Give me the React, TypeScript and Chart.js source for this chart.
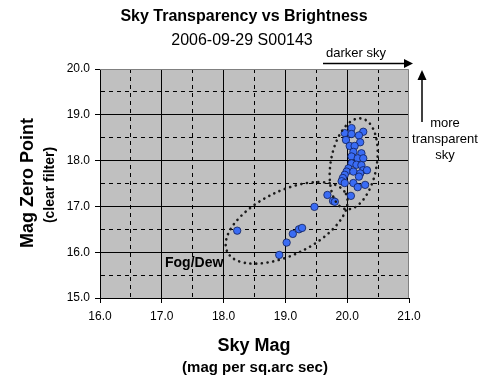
import React, { useEffect, useRef } from "react";
import { Chart, registerables } from "chart.js";

Chart.register(...registerables);

// ---- data ----
const skyMag = [
  18.22, 18.9, 19.02, 19.12, 19.22, 19.27, 19.47, 19.68, 19.77, 19.8,
  20.06, 20.07, 19.96, 20.07, 20.26, 20.19, 19.98, 20.21, 20.04, 20.12,
  20.1, 20.23, 20.07, 20.17, 20.26, 20.07, 20.15, 20.23, 20.02, 20.26,
  19.99, 20.1, 20.21, 20.32, 19.96, 20.19, 19.93, 19.91, 20.1, 20.29,
  19.96, 20.17,
];
const zeroPoint = [
  16.47, 15.94, 16.21, 16.4, 16.5, 16.53, 16.99, 17.25, 17.12, 17.1,
  17.23, 18.71, 18.6, 18.58, 18.63, 18.55, 18.45, 18.4, 18.32, 18.32,
  18.19, 18.16, 18.09, 18.05, 18.05, 17.94, 17.91, 17.9, 17.83, 17.79,
  17.76, 17.76, 17.72, 17.79, 17.69, 17.65, 17.62, 17.55, 17.51, 17.47,
  17.51, 17.42,
];
const xMin = 16, xMax = 21, yMin = 15, yMax = 20;
const titleText = "Sky Transparency vs Brightness";
const subtitleText = "2006-09-29 S00143";
const xTitle = "Sky Mag";
const xSubTitle = "(mag per sq.arc sec)";
const yTitle = "Mag Zero Point";
const ySubTitle = "(clear filter)";
const fogLabel = "Fog/Dew";
const darkerLabel = "darker sky";
const transparentLines = ["more", "transparent", "sky"];
// ellipses: centre in data units, radii (px) and tilt (deg)
const ellipseCx = [19.02, 20.105];
const ellipseCy = [16.64, 17.93];
const ellipseA = [66, 23];
const ellipseB = [32, 46];
const ellipseRot = [-26, 10];

const FONT = "'Liberation Sans', Arial, sans-serif";

const decorPlugin = {
  id: "decor",
  beforeDraw(chart: any) {
    const { ctx, chartArea: a } = chart;
    ctx.save();
    ctx.fillStyle = "#c0c0c0";
    ctx.fillRect(a.left, a.top, a.right - a.left, a.bottom - a.top);
    ctx.restore();
  },
  afterDatasetsDraw(chart: any) {
    const { ctx } = chart;
    const xs = chart.scales.x, ys = chart.scales.y;
    ctx.save();
    ctx.strokeStyle = "#1a1a1a";
    ctx.lineWidth = 2.6;
    ctx.lineCap = "round";
    ctx.setLineDash([0.1, 5.6]);
    for (let i = 0; i < ellipseCx.length; i++) {
      const cx = xs.getPixelForValue(ellipseCx[i]);
      const cy = ys.getPixelForValue(ellipseCy[i]);
      ctx.beginPath();
      ctx.ellipse(cx, cy, ellipseA[i], ellipseB[i], (ellipseRot[i] * Math.PI) / 180, 0, Math.PI * 2);
      ctx.stroke();
    }
    ctx.restore();
  },
  afterDraw(chart: any) {
    const { ctx, chartArea: a } = chart;
    ctx.save();
    ctx.fillStyle = "#000";
    ctx.textAlign = "center";
    ctx.textBaseline = "middle";
    ctx.font = `bold 16px ${FONT}`;
    ctx.fillText(titleText, 244, 17);
    ctx.font = `16px ${FONT}`;
    ctx.fillText(subtitleText, 242, 41);
    // x titles
    ctx.font = `bold 18px ${FONT}`;
    ctx.fillText(xTitle, 254, 346);
    ctx.font = `bold 15px ${FONT}`;
    ctx.fillText(xSubTitle, 255, 368);
    // y titles
    ctx.save();
    ctx.translate(28, 183);
    ctx.rotate(-Math.PI / 2);
    ctx.font = `bold 18px ${FONT}`;
    ctx.fillText(yTitle, 0, 0);
    ctx.restore();
    ctx.save();
    ctx.translate(50, 185);
    ctx.rotate(-Math.PI / 2);
    ctx.font = `bold 14px ${FONT}`;
    ctx.fillText(ySubTitle, 0, 0);
    ctx.restore();
    // Fog/Dew
    ctx.textAlign = "left";
    ctx.font = `bold 14px ${FONT}`;
    ctx.fillText(fogLabel, 165, 263);
    // darker sky arrow
    ctx.font = `13px ${FONT}`;
    ctx.fillText(darkerLabel, 326, 53);
    ctx.strokeStyle = "#000";
    ctx.lineWidth = 1.5;
    ctx.beginPath();
    ctx.moveTo(323, 63.5);
    ctx.lineTo(406, 63.5);
    ctx.stroke();
    ctx.beginPath();
    ctx.moveTo(413, 63.5);
    ctx.lineTo(404, 59);
    ctx.lineTo(404, 68);
    ctx.closePath();
    ctx.fill();
    // transparent arrow
    ctx.beginPath();
    ctx.moveTo(422, 122);
    ctx.lineTo(422, 78);
    ctx.stroke();
    ctx.beginPath();
    ctx.moveTo(422, 70);
    ctx.lineTo(417.5, 80);
    ctx.lineTo(426.5, 80);
    ctx.closePath();
    ctx.fill();
    ctx.textAlign = "center";
    ctx.font = `13px ${FONT}`;
    const ly = [123, 139, 155];
    transparentLines.forEach((t, i) => ctx.fillText(t, 445, ly[i]));
    // top/right border
    ctx.strokeStyle = "#808080";
    ctx.lineWidth = 1;
    ctx.beginPath();
    ctx.moveTo(a.left, a.top + 0.5);
    ctx.lineTo(a.right - 0.5, a.top + 0.5);
    ctx.lineTo(a.right - 0.5, a.bottom);
    ctx.stroke();
    ctx.restore();
  },
};

const isMajor = (v: number) => Math.abs(v - Math.round(v)) < 1e-6;

export default function App() {
  const ref = useRef<HTMLCanvasElement>(null);
  useEffect(() => {
    if (!ref.current) return;
    const points = skyMag.map((x, i) => ({ x, y: zeroPoint[i] }));
    const gridColor = (max: number) => (c: any) =>
      c.tick && Math.abs(c.tick.value - max) < 1e-6 ? "rgba(0,0,0,0)" : "#000";
    const tickCol = (c: any) => (c.tick && isMajor(c.tick.value) ? "#000" : "rgba(0,0,0,0)");
    const dash = (c: any) => (c.tick && !isMajor(c.tick.value) ? [4, 4] : []);
    const chart = new Chart(ref.current, {
      type: "scatter",
      data: {
        datasets: [
          {
            data: points,
            pointRadius: 3.7,
            pointHoverRadius: 3.7,
            backgroundColor: "#3a6cf4",
            borderColor: "#10205a",
            borderWidth: 0.8,
          },
        ],
      },
      options: {
        animation: false,
        responsive: false,
        devicePixelRatio: 1,
        events: [],
        layout: { padding: { left: 0, right: 78, top: 69, bottom: 0 } },
        plugins: { legend: { display: false }, tooltip: { enabled: false }, title: { display: false } },
        scales: {
          x: {
            type: "linear",
            min: xMin,
            max: xMax,
            afterFit: (s: any) => {
              s.height = 93;
            },
            ticks: {
              stepSize: 0.5,
              autoSkip: false,
              maxRotation: 0,
              padding: 6,
              color: "#000",
              font: { family: FONT, size: 12 },
              callback: (v: any) => (isMajor(Number(v)) ? Number(v).toFixed(1) : ""),
            },
            grid: { color: gridColor(xMax), tickColor: tickCol, tickLength: 5, lineWidth: 1 },
            border: { color: "#000", width: 1, dash: dash },
          },
          y: {
            type: "linear",
            min: yMin,
            max: yMax,
            afterFit: (s: any) => {
              s.width = 100;
            },
            ticks: {
              stepSize: 0.5,
              autoSkip: false,
              padding: 5,
              color: "#000",
              font: { family: FONT, size: 12 },
              callback: (v: any) => (isMajor(Number(v)) ? Number(v).toFixed(1) : ""),
            },
            grid: { color: gridColor(yMax), tickColor: tickCol, tickLength: 5, lineWidth: 1 },
            border: { color: "#000", width: 1, dash: dash },
          },
        },
      },
      plugins: [decorPlugin],
    } as any);
    return () => chart.destroy();
  }, []);
  return (
    <div style={{ position: "absolute", left: 0, top: 0, width: 487, height: 391, background: "#fff" }}>
      <canvas ref={ref} width={487} height={391} />
    </div>
  );
}
